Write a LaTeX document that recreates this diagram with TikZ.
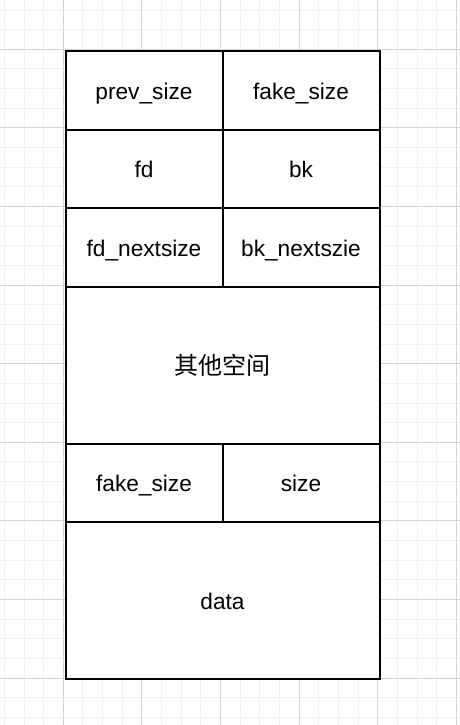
\documentclass[tikz,border=0pt]{standalone}
\usepackage{fontspec}
\setmainfont{Liberation Sans}
\newfontfamily\cjkfont{Noto Sans CJK SC}
\definecolor{gridminor}{HTML}{F0F0F0}
\definecolor{gridmajor}{HTML}{D4D4D4}
\begin{document}
\begin{tikzpicture}[x=0.75pt,y=-0.75pt,
  minorline/.style={draw=gridminor,line width=0.75pt},
  majorline/.style={draw=gridmajor,line width=0.75pt},
  cell/.style={draw=black,fill=white,line width=1.5pt,inner sep=0pt,outer sep=0pt,
    font=\fontsize{17}{20}\selectfont,text height=15pt,text depth=1.5pt},
  halfcell/.style={cell,minimum width=117.75pt,minimum height=58.875pt},
  widecell/.style={cell,minimum width=235.5pt,minimum height=117.75pt}]
\fill[white] (0,0) rectangle (460,725);
\useasboundingbox (0,0) rectangle (460,725);
\begin{scope}
\clip (0,0) rectangle (460,725);
\foreach \i in {0,...,25} {
  \draw[minorline] ({-15.3+\i*19.65},0) -- ++(0,725);
}
\foreach \i in {0,...,38} {
  \draw[minorline] (0,{-29.3+\i*19.65}) -- ++(460,0);
}
\foreach \i in {0,...,6} {
  \draw[majorline] ({-15.3+\i*78.6},0) -- ++(0,725);
}
\foreach \i in {0,...,9} {
  \draw[majorline] (0,{-29.3+\i*78.6}) -- ++(460,0);
}
\end{scope}
\node[halfcell] (prevsize) at (144,90.25) {prev\_size};
\node[halfcell] (fakesize) at (301,90.25) {fake\_size};
\node[halfcell] (fd) at (144,168.75) {fd};
\node[halfcell] (bk) at (301,168.75) {bk};
\node[halfcell] (fdnext) at (144,247.25) {fd\_nextsize};
\node[halfcell] (bknext) at (301,247.25) {bk\_nextszie};
\node[widecell,font=\cjkfont\fontsize{18}{20}\selectfont] (other) at (222.5,365) {其他空间};
\node[halfcell] (fakesize2) at (144,482.75) {fake\_size};
\node[halfcell] (size) at (301,482.75) {size};
\node[widecell,minimum height=117.375pt] (data) at (222.5,600.25) {data};
\end{tikzpicture}
\end{document}
